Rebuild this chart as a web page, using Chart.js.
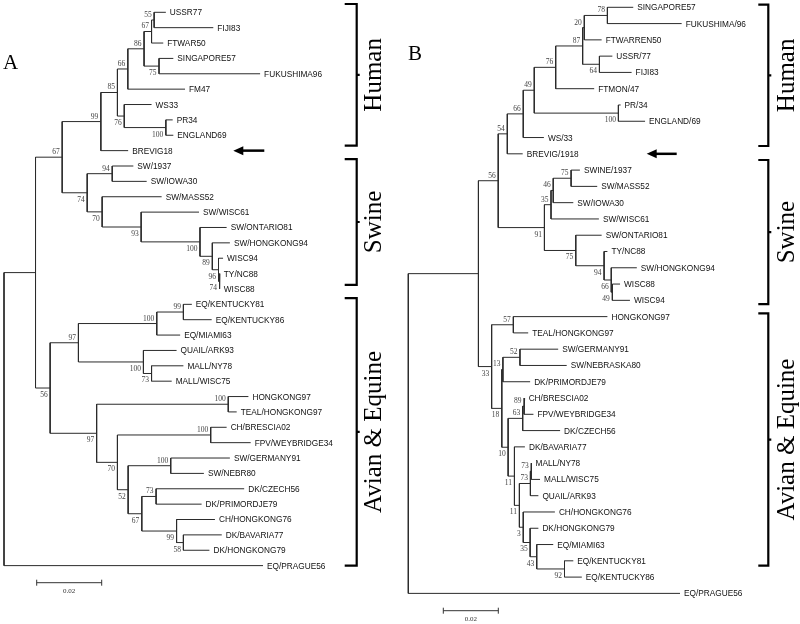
<!DOCTYPE html>
<html>
<head>
<meta charset="utf-8">
<script src="https://cdn.jsdelivr.net/npm/chart.js@4.4.0/dist/chart.umd.min.js"></script>
<style>
html, body { margin: 0; padding: 0; background: #fff; }
#wrap { position: relative; width: 800px; height: 624px; }
.panel { position: absolute; top: 0; width: 400px; height: 624px; }
</style>
</head>
<body>
<div id="wrap">
  <div class="panel" style="left:0"><canvas id="treeA" width="400" height="624"></canvas></div>
  <div class="panel" style="left:400px"><canvas id="treeB" width="400" height="624"></canvas></div>
</div>
<script>
'use strict';

// ---- panel A : leaves top to bottom, depth = distance from root
const leavesA = ['USSR77', 'FIJI83', 'FTWAR50', 'SINGAPORE57', 'FUKUSHIMA96', 'FM47', 'WS33', 'PR34',
  'ENGLAND69', 'BREVIG18', 'SW/1937', 'SW/IOWA30', 'SW/MASS52', 'SW/WISC61', 'SW/ONTARIO81',
  'SW/HONGKONG94', 'WISC94', 'TY/NC88', 'WISC88', 'EQ/KENTUCKY81', 'EQ/KENTUCKY86', 'EQ/MIAMI63',
  'QUAIL/ARK93', 'MALL/NY78', 'MALL/WISC75', 'HONGKONG97', 'TEAL/HONGKONG97', 'CH/BRESCIA02',
  'FPV/WEYBRIDGE34', 'SW/GERMANY91', 'SW/NEBR80', 'DK/CZECH56', 'DK/PRIMORDJE79', 'CH/HONGKONG76',
  'DK/BAVARIA77', 'DK/HONGKONG79', 'EQ/PRAGUE56'];
const leafDepthA = [0.0498, 0.0644, 0.0490, 0.0521, 0.0788, 0.0557, 0.0454, 0.0519,
  0.0521, 0.0382, 0.0398, 0.0439, 0.0485, 0.0600, 0.0685,
  0.0695, 0.0674, 0.0664, 0.0664, 0.0578, 0.0639, 0.0542,
  0.0531, 0.0552, 0.0516, 0.0752, 0.0716, 0.0685,
  0.0759, 0.0695, 0.0615, 0.0739, 0.0608, 0.0649,
  0.0670, 0.0632, 0.0797];
// [node, child 1, child 2, depth, bootstrap, label above/below]
const nodesA = [
  ['n55', 'USSR77', 'FIJI83', 0.0462, 55, 'a'],
  ['n67b', 'n55', 'FTWAR50', 0.0454, 67, 'a'],
  ['n75', 'SINGAPORE57', 'FUKUSHIMA96', 0.0477, 75, 'b'],
  ['n86', 'n67b', 'n75', 0.0431, 86, 'a'],
  ['n66', 'n86', 'FM47', 0.0381, 66, 'a'],
  ['n100p', 'PR34', 'ENGLAND69', 0.0498, 100, 'b'],
  ['n76', 'WS33', 'n100p', 0.0370, 76, 'b'],
  ['n85', 'n66', 'n76', 0.0349, 85, 'a'],
  ['n99', 'n85', 'BREVIG18', 0.0298, 99, 'a'],
  ['n94', 'SW/1937', 'SW/IOWA30', 0.0333, 94, 'a'],
  ['n74b', 'TY/NC88', 'WISC88', 0.0663, 74, 'b'],
  ['n96', 'WISC94', 'n74b', 0.0660, 96, 'b'],
  ['n89', 'SW/HONGKONG94', 'n96', 0.0641, 89, 'b'],
  ['n100s', 'SW/ONTARIO81', 'n89', 0.0603, 100, 'b'],
  ['n93', 'SW/WISC61', 'n100s', 0.0422, 93, 'b'],
  ['n70', 'SW/MASS52', 'n93', 0.0302, 70, 'b'],
  ['n74', 'n94', 'n70', 0.0256, 74, 'b'],
  ['n67', 'n99', 'n74', 0.0179, 67, 'a'],
  ['n99e', 'EQ/KENTUCKY81', 'EQ/KENTUCKY86', 0.0552, 99, 'a'],
  ['n100a', 'n99e', 'EQ/MIAMI63', 0.0470, 100, 'a'],
  ['n73', 'MALL/NY78', 'MALL/WISC75', 0.0454, 73, 'b'],
  ['n100b', 'QUAIL/ARK93', 'n73', 0.0429, 100, 'b'],
  ['n97a', 'n100a', 'n100b', 0.0229, 97, 'a'],
  ['n100c', 'HONGKONG97', 'TEAL/HONGKONG97', 0.0690, 100, 'a'],
  ['n100d', 'CH/BRESCIA02', 'FPV/WEYBRIDGE34', 0.0636, 100, 'a'],
  ['n100e', 'SW/GERMANY91', 'SW/NEBR80', 0.0513, 100, 'a'],
  ['n73b', 'DK/CZECH56', 'DK/PRIMORDJE79', 0.0468, 73, 'a'],
  ['n58', 'DK/BAVARIA77', 'DK/HONGKONG79', 0.0552, 58, 'b'],
  ['n99b', 'CH/HONGKONG76', 'n58', 0.0531, 99, 'b'],
  ['n67c', 'n73b', 'n99b', 0.0424, 67, 'b'],
  ['n52', 'n100e', 'n67c', 0.0382, 52, 'b'],
  ['n70b', 'n100d', 'n52', 0.0349, 70, 'b'],
  ['n97b', 'n100c', 'n70b', 0.0285, 97, 'b'],
  ['n56', 'n97a', 'n97b', 0.0142, 56, 'b'],
  ['n1', 'n67', 'n56', 0.0097, null, ''],
  ['root', 'n1', 'EQ/PRAGUE56', 0, null, '']
];

// ---- panel B
const leavesB = ['SINGAPORE57', 'FUKUSHIMA/96', 'FTWARREN50', 'USSR/77', 'FIJI83', 'FTMON/47', 'PR/34',
  'ENGLAND/69', 'WS/33', 'BREVIG/1918', 'SWINE/1937', 'SW/MASS52', 'SW/IOWA30', 'SW/WISC61',
  'SW/ONTARIO81', 'TY/NC88', 'SW/HONGKONG94', 'WISC88', 'WISC94', 'HONGKONG97', 'TEAL/HONGKONG97',
  'SW/GERMANY91', 'SW/NEBRASKA80', 'DK/PRIMORDJE79', 'CH/BRESCIA02', 'FPV/WEYBRIDGE34', 'DK/CZECH56',
  'DK/BAVARIA77', 'MALL/NY78', 'MALL/WISC75', 'QUAIL/ARK93', 'CH/HONGKONG76', 'DK/HONGKONG79',
  'EQ/MIAMI63', 'EQ/KENTUCKY81', 'EQ/KENTUCKY86', 'EQ/PRAGUE56'];
const leafDepthB = [0.0818, 0.0994, 0.0703, 0.0742, 0.0812, 0.0676, 0.0772,
  0.0861, 0.0493, 0.0416, 0.0624, 0.0687, 0.0600, 0.0693,
  0.0703, 0.0724, 0.0831, 0.0770, 0.0806, 0.0724, 0.0436,
  0.0545, 0.0576, 0.0443, 0.0423, 0.0455, 0.0552,
  0.0424, 0.0448, 0.0479, 0.0473, 0.0533, 0.0473,
  0.0527, 0.0600, 0.0631, 0.0988];
const nodesB = [
  ['n78', 'SINGAPORE57', 'FUKUSHIMA/96', 0.0724, 78, 'a'],
  ['n20', 'n78', 'FTWARREN50', 0.0640, 20, 'a'],
  ['n64', 'USSR/77', 'FIJI83', 0.0695, 64, 'b'],
  ['n87', 'n20', 'n64', 0.0634, 87, 'a'],
  ['n76', 'n87', 'FTMON/47', 0.0536, 76, 'a'],
  ['n100', 'PR/34', 'ENGLAND/69', 0.0764, 100, 'b'],
  ['n49', 'n76', 'n100', 0.0458, 49, 'a'],
  ['n66', 'n49', 'WS/33', 0.0418, 66, 'a'],
  ['n54', 'n66', 'BREVIG/1918', 0.0360, 54, 'a'],
  ['n75', 'SWINE/1937', 'SW/MASS52', 0.0592, 75, 'a'],
  ['n46', 'n75', 'SW/IOWA30', 0.0527, 46, 'a'],
  ['n35', 'n46', 'SW/WISC61', 0.0519, 35, 'a'],
  ['n49s', 'WISC88', 'WISC94', 0.0742, 49, 'b'],
  ['n66s', 'SW/HONGKONG94', 'n49s', 0.0738, 66, 'b'],
  ['n94', 'TY/NC88', 'n66s', 0.0712, 94, 'b'],
  ['n75b', 'SW/ONTARIO81', 'n94', 0.0609, 75, 'b'],
  ['n91', 'n35', 'n75b', 0.0495, 91, 'b'],
  ['n56', 'n54', 'n91', 0.0327, 56, 'a'],
  ['n57', 'HONGKONG97', 'TEAL/HONGKONG97', 0.0382, 57, 'a'],
  ['n52', 'SW/GERMANY91', 'SW/NEBRASKA80', 0.0406, 52, 'a'],
  ['n13', 'n52', 'DK/PRIMORDJE79', 0.0344, 13, 'a'],
  ['n89', 'CH/BRESCIA02', 'FPV/WEYBRIDGE34', 0.0421, 89, 'a'],
  ['n63', 'n89', 'DK/CZECH56', 0.0416, 63, 'a'],
  ['n73b', 'MALL/NY78', 'MALL/WISC75', 0.0447, 73, 'a'],
  ['n73c', 'n73b', 'QUAIL/ARK93', 0.0444, 73, 'a'],
  ['n92', 'EQ/KENTUCKY81', 'EQ/KENTUCKY86', 0.0568, 92, 'b'],
  ['n43', 'EQ/MIAMI63', 'n92', 0.0467, 43, 'b'],
  ['n35b', 'DK/HONGKONG79', 'n43', 0.0443, 35, 'b'],
  ['n3', 'CH/HONGKONG76', 'n35b', 0.0418, 3, 'b'],
  ['n11b', 'n73c', 'n3', 0.0404, 11, 'b'],
  ['n11a', 'DK/BAVARIA77', 'n11b', 0.0386, 11, 'b'],
  ['n10', 'n63', 'n11a', 0.0363, 10, 'b'],
  ['n18', 'n13', 'n10', 0.0340, 18, 'b'],
  ['n33', 'n57', 'n18', 0.0303, 33, 'b'],
  ['r2', 'n56', 'n33', 0.0255, null, ''],
  ['root', 'r2', 'EQ/PRAGUE56', 0, null, '']
];

const groupNames = ['Human', 'Swine', 'Avian & Equine'];
const groupRowsA = [[-0.54, 8.68], [9.55, 17.74], [18.6, 36.0]];
const groupRowsB = [[-0.16, 8.52], [9.38, 18.23], [18.8, 34.3]];
const scaleBarValue = 0.02;

// work out x/y of every node (leaf row = y, internal y = middle of its two children)
function layoutTree(leaves, depths, nodes) {
  const pos = {};
  leaves.forEach((name, i) => { pos[name] = { x: depths[i], y: i }; });
  const byId = {};
  nodes.forEach(n => { byId[n[0]] = n; });
  function place(id) {
    if (pos[id]) return pos[id];
    const n = byId[id];
    const a = place(n[1]);
    const b = place(n[2]);
    pos[id] = { x: n[3], y: (a.y + b.y) / 2 };
    return pos[id];
  }
  nodes.forEach(n => place(n[0]));
  return pos;
}

function branchPoints(nodes, pos) {
  const pts = [];
  for (const n of nodes) {
    const p = pos[n[0]], a = pos[n[1]], b = pos[n[2]];
    pts.push({ x: a.x, y: a.y }, { x: p.x, y: a.y }, { x: p.x, y: b.y }, { x: b.x, y: b.y });
    pts.push({ x: p.x, y: null });
  }
  return pts;
}

function squeezed(ctx, str, x, y, align) {
  ctx.save();
  ctx.translate(x, y);
  ctx.scale(0.92, 1);
  ctx.textAlign = align;
  ctx.fillText(str, 0, 0);
  ctx.restore();
}

const treePlugin = {
  id: 'treeText',
  afterDatasetsDraw(chart, args, opts) {
    const ctx = chart.ctx;
    const xs = chart.scales.x, ys = chart.scales.y;
    const pos = opts.pos;
    ctx.save();

    // leaf names
    ctx.fillStyle = '#111';
    ctx.font = '9px "Liberation Sans", Arial, sans-serif';
    ctx.textBaseline = 'middle';
    opts.leaves.forEach(name => {
      const p = pos[name];
      squeezed(ctx, name, xs.getPixelForValue(p.x) + 4, ys.getPixelForValue(p.y) + 0.5, 'left');
    });

    // bootstrap values
    ctx.fillStyle = '#444';
    ctx.font = '7.5px "Liberation Serif", "Times New Roman", serif';
    ctx.textAlign = 'right';
    opts.nodes.forEach(n => {
      if (n[4] === null) return;
      const p = pos[n[0]];
      const px = xs.getPixelForValue(p.x) - 2.5;
      const py = ys.getPixelForValue(p.y) + (n[5] === 'a' ? -5 : 7);
      ctx.fillText(String(n[4]), px, py);
    });

    // panel letter
    ctx.fillStyle = '#000';
    ctx.font = '21px "Liberation Serif", "Times New Roman", serif';
    ctx.textAlign = 'left';
    ctx.textBaseline = 'alphabetic';
    ctx.fillText(opts.letter, opts.letterX, opts.letterY);

    // group brackets + names
    ctx.strokeStyle = '#000';
    ctx.lineWidth = 2.2;
    ctx.font = '25px "Liberation Serif", "Times New Roman", serif';
    opts.groupRows.forEach((r, i) => {
      const y0 = ys.getPixelForValue(r[0]), y1 = ys.getPixelForValue(r[1]);
      const bx = opts.bracketX, mid = (y0 + y1) / 2;
      ctx.beginPath();
      ctx.moveTo(bx - opts.bracketEnd, y0);
      ctx.lineTo(bx, y0);
      ctx.lineTo(bx, y1);
      ctx.lineTo(bx - opts.bracketEnd, y1);
      ctx.moveTo(bx, mid);
      ctx.lineTo(bx + 3, mid);
      ctx.stroke();
      ctx.save();
      ctx.translate(opts.textX, mid);
      ctx.rotate(-Math.PI / 2);
      ctx.textAlign = 'center';
      ctx.fillText(groupNames[i], 0, 0);
      ctx.restore();
    });

    // arrow at the Brevig sequence
    const ay = ys.getPixelForValue(pos[opts.arrowLeaf].y);
    ctx.lineWidth = 2.5;
    ctx.beginPath();
    ctx.moveTo(opts.arrowTail, ay);
    ctx.lineTo(opts.arrowTip + 8, ay);
    ctx.stroke();
    ctx.fillStyle = '#000';
    ctx.beginPath();
    ctx.moveTo(opts.arrowTip, ay);
    ctx.lineTo(opts.arrowTip + 10, ay - 4.5);
    ctx.lineTo(opts.arrowTip + 10, ay + 4.5);
    ctx.closePath();
    ctx.fill();

    // scale bar
    const len = xs.getPixelForValue(scaleBarValue) - xs.getPixelForValue(0);
    const sx = opts.barX, sy = opts.barY;
    ctx.strokeStyle = '#333';
    ctx.lineWidth = 1;
    ctx.beginPath();
    ctx.moveTo(sx, sy); ctx.lineTo(sx + len, sy);
    ctx.moveTo(sx, sy - 3); ctx.lineTo(sx, sy + 3);
    ctx.moveTo(sx + len, sy - 3); ctx.lineTo(sx + len, sy + 3);
    ctx.stroke();
    ctx.fillStyle = '#333';
    ctx.font = '7px "Liberation Serif", "Times New Roman", serif';
    ctx.textAlign = 'center';
    ctx.textBaseline = 'middle';
    ctx.fillText(String(scaleBarValue), sx + len / 2, sy + 8);

    ctx.restore();
  }
};

function makeTree(canvasId, leaves, depths, nodes, xRange, yRange, deco) {
  const pos = layoutTree(leaves, depths, nodes);
  return new Chart(document.getElementById(canvasId).getContext('2d'), {
    type: 'scatter',
    data: {
      datasets: [{
        data: branchPoints(nodes, pos),
        showLine: true,
        spanGaps: false,
        borderColor: '#2b2b2b',
        borderWidth: 1,
        pointRadius: 0,
        pointHoverRadius: 0
      }]
    },
    options: {
      responsive: false,
      animation: false,
      devicePixelRatio: 1,
      layout: { padding: 0 },
      scales: {
        x: { type: 'linear', min: xRange[0], max: xRange[1], display: false },
        y: { type: 'linear', min: yRange[0], max: yRange[1], reverse: true, display: false }
      },
      plugins: {
        legend: { display: false },
        tooltip: { enabled: false },
        treeText: Object.assign({ pos: pos, leaves: leaves, nodes: nodes }, deco)
      }
    },
    plugins: [treePlugin]
  });
}

// x: pixels per unit 3250 (A) and 2750 (B); y: row pitch 15.37 (A) and 16.28 (B)
makeTree('treeA', leavesA, leafDepthA, nodesA,
  [-4 / 3250, -4 / 3250 + 400 / 3250], [-0.8003, -0.8003 + 624 / 15.37],
  { letter: 'A', letterX: 3, letterY: 69, groupRows: groupRowsA, bracketX: 356.7, bracketEnd: 12,
    textX: 381, arrowLeaf: 'BREVIG18', arrowTip: 233.3, arrowTail: 264.3, barX: 36.7, barY: 582.7 });

makeTree('treeB', leavesB, leafDepthB, nodesB,
  [-8.3 / 2750, -8.3 / 2750 + 400 / 2750], [-0.4484, -0.4484 + 624 / 16.28],
  { letter: 'B', letterX: 8, letterY: 60, groupRows: groupRowsB, bracketX: 368.3, bracketEnd: 10,
    textX: 394, arrowLeaf: 'BREVIG/1918', arrowTip: 246.7, arrowTail: 276.7, barX: 43.3, barY: 610.7 });
</script>
</body>
</html>
